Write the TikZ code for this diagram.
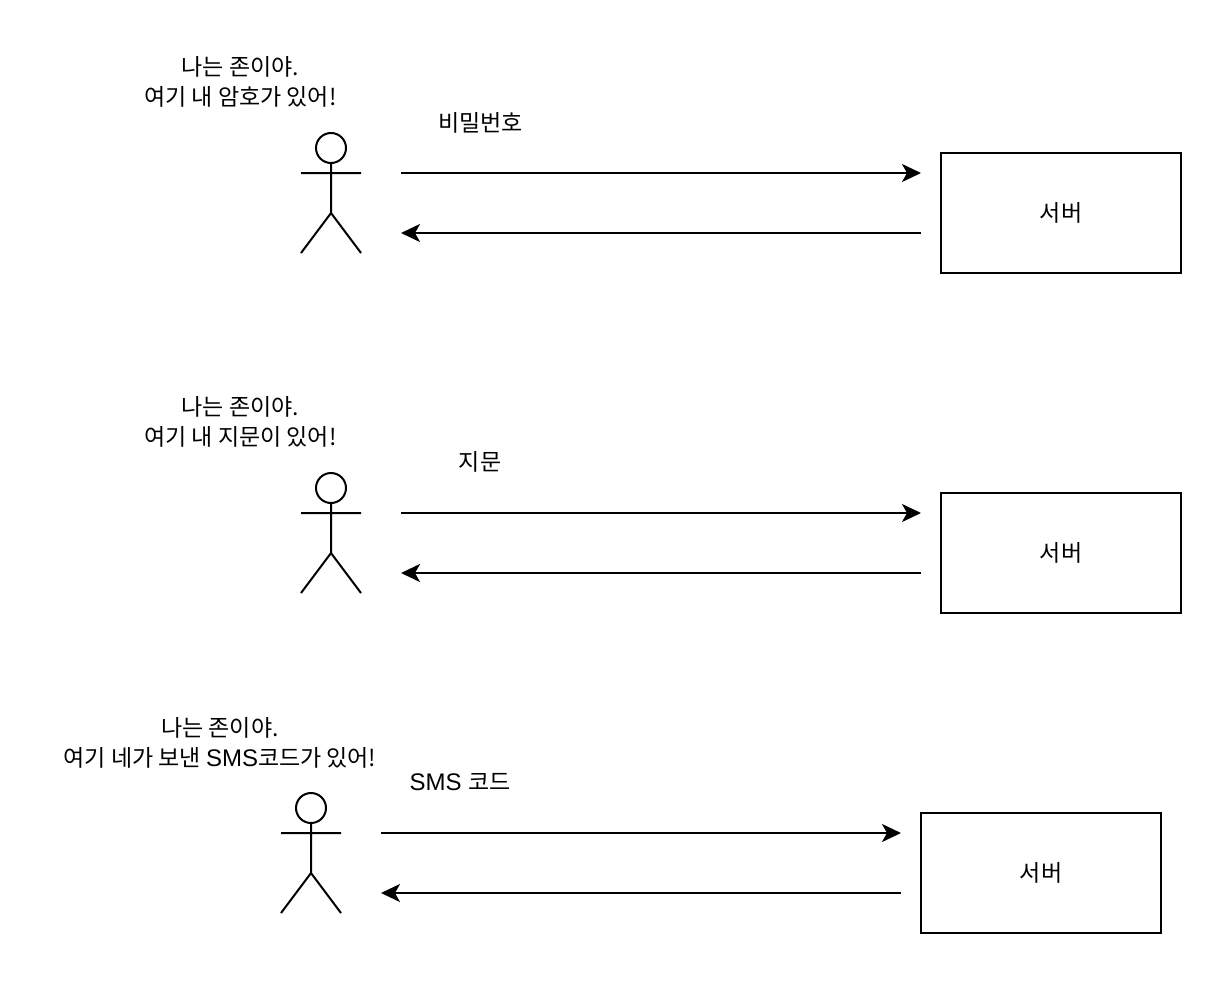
\documentclass[tikz,border=0pt]{standalone}
\usepackage{fontspec}
\setmainfont{Liberation Sans}
\newfontfamily\krf{Noto Sans CJK KR}
\usetikzlibrary{arrows.meta}
\tikzset{
  x=1pt,y=-1pt,
  txt/.style={inner sep=0pt,align=center,font=\fontsize{24}{30}\selectfont,text=black},
  box/.style={draw=black,line width=2pt,minimum width=240pt,minimum height=120pt,inner sep=0pt,font=\fontsize{24}{30}\selectfont},
  head/.style={draw=black,line width=2pt,circle,minimum size=30pt,inner sep=0pt},
  lnk/.style={draw=black,line width=2pt},
  arr/.style={lnk,-{Stealth[length=19pt,width=18pt,inset=5pt]}}
}
\newcommand{\K}[1]{{\krf\fontsize{23}{30}\selectfont #1}}
\newcommand{\actor}[3]{%
  \node[head] (#1h) at (#2,#3) {};
  \coordinate (#1n) at (#2,#3+15);
  \coordinate (#1a) at (#2-30,#3+25);
  \coordinate (#1b) at (#2+30,#3+25);
  \coordinate (#1w) at (#2,#3+65);
  \coordinate (#1l) at (#2-30,#3+105);
  \coordinate (#1r) at (#2+30,#3+105);
  \draw[lnk] (#1h.south) -- (#1w) (#1a) -- (#1b) (#1w) -- (#1l) (#1w) -- (#1r);
}
\begin{document}
\begin{tikzpicture}
\useasboundingbox (0,0) rectangle (1226,990);
\actor{p}{331}{148}
\actor{q}{331}{488}
\actor{r}{311}{808}
\node[box] (s1) at (1061,213) {\K{서버}};
\node[box] (s2) at (1061,553) {\K{서버}};
\node[box] (s3) at (1041,873) {\K{서버}};
\coordinate (a1) at (401,173); \coordinate (b1) at (921,173);
\coordinate (a2) at (921,233); \coordinate (b2) at (401,233);
\coordinate (a3) at (401,513); \coordinate (b3) at (921,513);
\coordinate (a4) at (921,573); \coordinate (b4) at (401,573);
\coordinate (a5) at (381,833); \coordinate (b5) at (901,833);
\coordinate (a6) at (901,893); \coordinate (b6) at (381,893);
\draw[arr] (a1) -- (b1);
\draw[arr] (a2) -- (b2);
\draw[arr] (a3) -- (b3);
\draw[arr] (a4) -- (b4);
\draw[arr] (a5) -- (b5);
\draw[arr] (a6) -- (b6);
\node[txt] (t1) at (240.5,81.5) {\K{나는 존이야.}\\\K{여기 내 암호가 있어!}};
\node[txt] (t2) at (240.5,421.5) {\K{나는 존이야.}\\\K{여기 내 지문이 있어!}};
\node[txt] (t3) at (220,742.5) {\K{나는 존이야.}\\\K{여기 네가 보낸 }SMS\K{코드가 있어!}};
\node[txt] (l1) at (480.5,122.5) {\K{비밀번호}};
\node[txt] (l2) at (480,461.5) {\K{지문}};
\node[txt] (l3) at (460,782.5) {SMS \K{코드}};
\end{tikzpicture}
\end{document}
